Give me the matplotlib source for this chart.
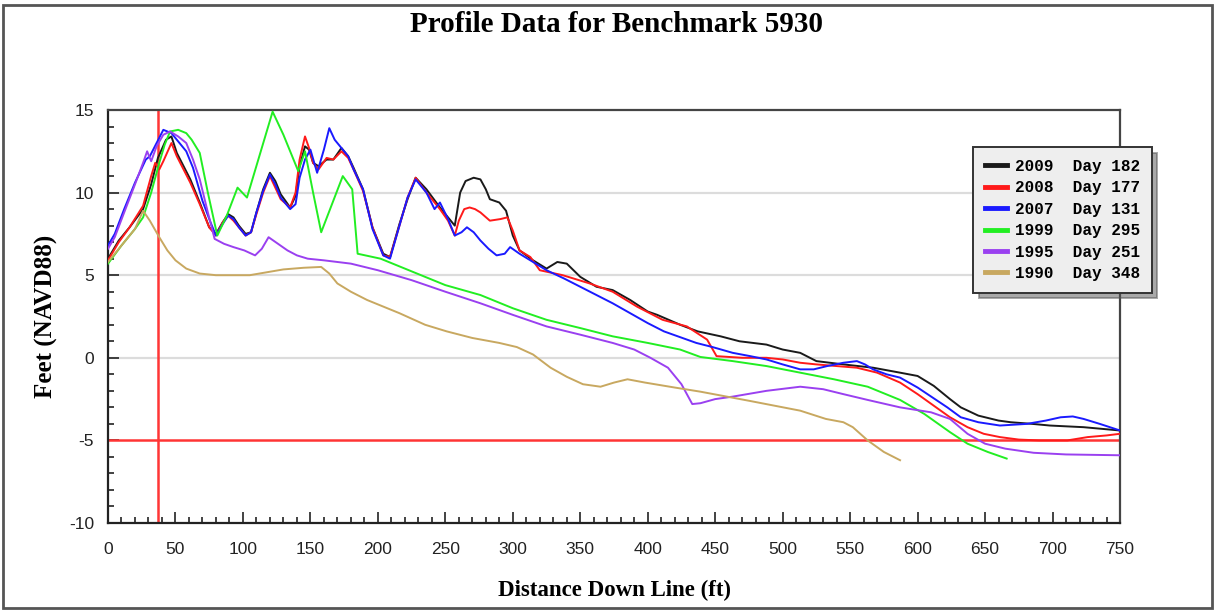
import matplotlib
matplotlib.use("Agg")
import matplotlib.pyplot as plt
from matplotlib.patches import Rectangle
from matplotlib.ticker import MultipleLocator

plt.rcParams["axes.unicode_minus"] = False

# Survey profiles: (distance down line in ft, elevation in ft NAVD88)
profile_2009 = [(0, 6.0), (8, 7.1), (16, 7.9), (26, 9.0), (32, 10.5), (37, 12.1), (43, 13.2), (47, 13.4),
                (51, 12.4), (56, 11.6), (61, 10.8), (68, 9.4), (75, 7.9), (80, 7.5), (85, 8.2), (89, 8.7),
                (93, 8.5), (97, 8.0), (102, 7.5), (106, 7.6), (110, 8.8), (115, 10.2), (120, 11.2), (124, 10.7),
                (128, 9.9), (135, 9.1), (139, 9.8), (142, 11.6), (146, 12.8), (149, 12.6), (152, 11.8),
                (156, 11.6), (162, 12.0), (167, 12.0), (173, 12.7), (178, 12.2), (182, 11.5), (189, 10.2),
                (196, 7.9), (204, 6.3), (209, 6.1), (216, 8.1), (222, 9.6), (228, 10.9), (236, 10.2),
                (246, 9.1), (254, 8.3), (257, 8.0), (261, 10.0), (265, 10.7), (271, 10.9), (276, 10.8),
                (280, 10.2), (283, 9.6), (290, 9.4), (295, 8.9), (300, 7.4), (305, 6.5), (315, 5.9),
                (325, 5.4), (333, 5.8), (340, 5.7), (350, 4.9), (362, 4.3), (374, 4.1), (387, 3.5),
                (400, 2.8), (407, 2.6), (424, 2.0), (437, 1.6), (454, 1.3), (468, 1.0), (488, 0.8),
                (500, 0.5), (513, 0.3), (525, -0.2), (545, -0.4), (567, -0.6), (587, -0.9), (600, -1.1),
                (612, -1.7), (624, -2.5), (632, -3.0), (645, -3.5), (660, -3.8), (669, -3.9), (685, -4.0),
                (698, -4.1), (723, -4.2), (750, -4.4)]

profile_2008 = [(0, 5.9), (8, 7.0), (16, 7.9), (26, 9.2), (32, 11.0), (35, 11.8), (38, 11.4), (41, 11.9),
                (47, 13.0), (51, 12.2), (56, 11.4), (61, 10.6), (68, 9.3), (75, 7.9), (80, 7.4), (85, 8.2),
                (89, 8.6), (93, 8.3), (97, 7.9), (102, 7.4), (106, 7.6), (110, 8.7), (115, 10.0), (120, 11.0),
                (124, 10.3), (128, 9.6), (135, 9.1), (139, 10.0), (142, 12.0), (146, 13.4), (149, 12.7),
                (152, 11.8), (156, 11.4), (162, 12.1), (167, 12.0), (173, 12.5), (178, 12.1), (182, 11.4),
                (189, 10.1), (196, 7.9), (204, 6.2), (209, 6.1), (216, 8.0), (222, 9.7), (228, 10.9),
                (236, 10.0), (246, 9.0), (252, 8.3), (257, 7.4), (260, 8.3), (264, 9.0), (268, 9.1),
                (272, 9.0), (276, 8.8), (283, 8.3), (291, 8.4), (296, 8.5), (300, 7.7), (305, 6.5),
                (313, 6.1), (320, 5.3), (337, 5.0), (357, 4.5), (374, 4.0), (392, 3.1), (411, 2.3),
                (429, 1.9), (444, 1.1), (451, 0.1), (470, 0.0), (488, 0.0), (500, -0.1), (513, -0.3),
                (525, -0.4), (540, -0.5), (555, -0.6), (570, -0.9), (587, -1.5), (600, -2.2), (612, -2.9),
                (624, -3.6), (637, -4.2), (649, -4.6), (661, -4.8), (675, -4.95), (690, -5.0), (711, -5.0),
                (726, -4.8), (740, -4.7), (750, -4.6)]

profile_2007 = [(0, 6.8), (5, 7.5), (12, 9.0), (20, 10.6), (28, 12.0), (31, 12.2), (36, 13.0), (41, 13.8),
                (47, 13.6), (53, 13.0), (58, 12.5), (63, 11.5), (70, 9.5), (76, 8.2), (80, 7.4), (85, 8.1),
                (89, 8.6), (93, 8.4), (97, 7.9), (102, 7.4), (106, 7.6), (110, 8.8), (115, 10.1), (120, 11.1),
                (124, 10.5), (128, 9.7), (135, 9.0), (139, 9.3), (142, 10.9), (146, 12.0), (150, 12.6),
                (155, 11.2), (160, 12.6), (164, 13.9), (168, 13.2), (172, 12.8), (178, 12.2), (182, 11.4),
                (189, 10.2), (196, 7.8), (204, 6.2), (209, 6.0), (216, 8.0), (222, 9.7), (228, 10.8),
                (236, 10.0), (242, 9.0), (246, 9.4), (252, 8.4), (257, 7.4), (262, 7.6), (266, 7.9),
                (271, 7.6), (276, 7.1), (282, 6.6), (288, 6.2), (294, 6.3), (298, 6.7), (305, 6.3),
                (313, 5.9), (325, 5.3), (338, 4.8), (350, 4.3), (362, 3.8), (374, 3.3), (387, 2.7),
                (400, 2.1), (412, 1.6), (424, 1.25), (436, 0.9), (448, 0.65), (463, 0.3), (476, 0.1),
                (488, -0.1), (500, -0.4), (513, -0.7), (523, -0.7), (533, -0.5), (545, -0.3), (555, -0.2),
                (561, -0.4), (567, -0.7), (577, -1.0), (587, -1.2), (600, -1.8), (611, -2.4), (622, -3.0),
                (632, -3.6), (645, -3.9), (661, -4.1), (681, -4.0), (695, -3.8), (706, -3.6), (715, -3.55),
                (723, -3.7), (735, -4.0), (750, -4.4)]

profile_1999 = [(0, 5.7), (10, 6.8), (20, 7.8), (26, 8.5), (32, 10.0), (38, 11.8), (42, 12.9), (46, 13.7),
                (52, 13.8), (58, 13.6), (62, 13.2), (68, 12.4), (74, 10.0), (81, 7.4), (88, 8.6), (96, 10.3),
                (103, 9.7), (122, 14.9), (130, 13.5), (137, 12.1), (141, 11.3), (146, 12.5), (152, 10.0),
                (158, 7.6), (166, 9.3), (174, 11.0), (181, 10.2), (185, 6.3), (202, 6.0), (229, 5.1),
                (250, 4.4), (276, 3.8), (300, 3.0), (325, 2.3), (350, 1.8), (374, 1.3), (400, 0.9),
                (424, 0.5), (439, 0.05), (463, -0.2), (488, -0.5), (513, -0.9), (538, -1.3), (563, -1.75),
                (587, -2.55), (605, -3.4), (624, -4.5), (637, -5.2), (652, -5.7), (666, -6.1)]

profile_1995 = [(0, 6.6), (5, 7.3), (12, 8.8), (20, 10.5), (26, 11.8), (29, 12.5), (32, 11.9), (36, 12.8),
                (41, 13.5), (46, 13.7), (52, 13.4), (58, 13.0), (63, 12.0), (68, 10.8), (74, 8.8), (79, 7.2),
                (86, 6.9), (93, 6.7), (101, 6.5), (109, 6.2), (114, 6.6), (119, 7.3), (126, 6.9), (133, 6.5),
                (140, 6.2), (148, 6.0), (160, 5.9), (180, 5.7), (200, 5.3), (225, 4.7), (250, 4.0),
                (276, 3.3), (300, 2.6), (325, 1.9), (350, 1.4), (374, 0.9), (390, 0.5), (402, 0.0),
                (415, -0.6), (425, -1.6), (433, -2.8), (439, -2.75), (450, -2.5), (463, -2.35), (488, -2.0),
                (513, -1.75), (530, -1.9), (545, -2.2), (563, -2.55), (587, -3.0), (610, -3.3), (624, -3.7),
                (637, -4.6), (650, -5.2), (665, -5.5), (686, -5.75), (710, -5.85), (750, -5.9)]

profile_1990 = [(0, 5.8), (8, 6.6), (15, 7.3), (20, 7.8), (26, 8.9), (31, 8.3), (38, 7.3), (44, 6.5),
                (50, 5.9), (58, 5.4), (68, 5.1), (80, 5.0), (105, 5.0), (130, 5.35), (145, 5.45), (158, 5.5),
                (164, 5.1), (170, 4.5), (180, 4.0), (192, 3.5), (216, 2.7), (235, 2.0), (251, 1.6),
                (270, 1.2), (290, 0.9), (303, 0.65), (315, 0.2), (328, -0.6), (340, -1.15), (352, -1.6),
                (365, -1.75), (375, -1.5), (385, -1.3), (398, -1.5), (420, -1.8), (439, -2.05), (475, -2.6),
                (513, -3.2), (532, -3.7), (545, -3.9), (552, -4.2), (563, -5.0), (575, -5.7), (587, -6.2)]

survey_years = ["2009", "2008", "2007", "1999", "1995", "1990"]
survey_days = [182, 177, 131, 295, 251, 348]
series_colors = ["#1a1a1a", "#ff1a1a", "#1a1aff", "#22ee22", "#9a40f0", "#c8a860"]
profiles = [profile_2009, profile_2008, profile_2007, profile_1999, profile_1995, profile_1990]

# Reference markers
marker_distance = 37
marker_elevation = -5

fig = plt.figure(figsize=(12.15, 6.12), dpi=100)
ax = fig.add_axes([108 / 1215, 1 - 523 / 612, 1012 / 1215, 413 / 612])

for y in (0, 5, 10):
    ax.axhline(y, color="#dcdcdc", lw=1.6, zorder=0)

for prof, col, yr, day in zip(profiles, series_colors, survey_years, survey_days):
    xs = [p[0] for p in prof]
    ys = [p[1] for p in prof]
    ax.plot(xs, ys, color=col, lw=1.4, label=f"{yr}  Day {day}", zorder=3)

ax.axvline(marker_distance, color="#ff3535", lw=1.8, zorder=2)
ax.axhline(marker_elevation, color="#ff3535", lw=1.8, zorder=2)

ax.set_xlim(0, 750)
ax.set_ylim(-10, 15)
ax.xaxis.set_major_locator(MultipleLocator(50))
ax.xaxis.set_minor_locator(MultipleLocator(10))
ax.yaxis.set_major_locator(MultipleLocator(5))
ax.yaxis.set_minor_locator(MultipleLocator(1))
ax.tick_params(which="both", direction="in", top=False, right=False, color="#222222", width=1.2)
ax.tick_params(which="major", length=8, labelsize=12.5)
ax.tick_params(axis="x", which="major", pad=14)
ax.tick_params(axis="y", which="major", pad=10)
ax.tick_params(which="minor", length=4)
for lab in ax.get_xticklabels() + ax.get_yticklabels():
    lab.set_fontfamily("Liberation Sans")
    lab.set_color("#222222")

for side in ("left", "bottom", "top", "right"):
    ax.spines[side].set_linewidth(1.6)
    ax.spines[side].set_color("#222222")
ax.spines["top"].set_color("#444444")
ax.spines["right"].set_color("#444444")

ax.set_xlabel("Distance Down Line (ft)", fontfamily="Liberation Serif", fontweight="bold",
              fontsize=16.5, labelpad=16)
ax.set_ylabel("Feet (NAVD88)", fontfamily="Liberation Serif", fontweight="bold",
              fontsize=18, labelpad=8)
fig.text(616 / 1215, 1 - 25 / 612, "Profile Data for Benchmark 5930", ha="center", va="center",
         fontfamily="Liberation Serif", fontweight="bold", fontsize=21)

leg = ax.legend(loc="upper left", bbox_to_anchor=((973 - 108) / 1012, (523 - 147) / 413),
                borderaxespad=0, frameon=True, fancybox=False, shadow={"ox": 4, "oy": -4, "color": "#555555"},
                facecolor="#eeeeee", edgecolor="#333333",
                prop={"family": "Liberation Mono", "weight": "bold", "size": 11.5},
                handlelength=1.4, handletextpad=0.45, borderpad=0.75, labelspacing=0.4)
leg.get_frame().set_linewidth(1.4)
leg.get_frame().set_alpha(1)
for h in leg.get_lines():
    h.set_linewidth(3.5)

fig.patches.append(Rectangle((3 / 1215, 4 / 612), 1209 / 1215, 603 / 612, transform=fig.transFigure,
                             fill=False, edgecolor="#555555", lw=2))

fig.savefig("out.png", dpi=100)
